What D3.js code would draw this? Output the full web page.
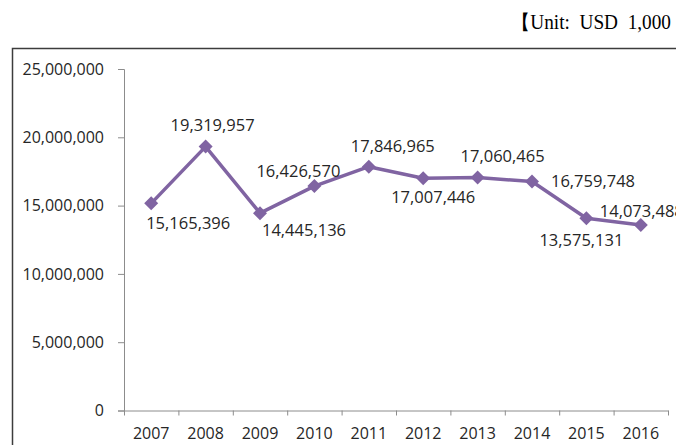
<!DOCTYPE html>
<html>
<head>
<meta charset="utf-8">
<script src="https://cdn.jsdelivr.net/npm/d3@7"></script>
<style>
  html, body { margin: 0; padding: 0; background: #fff; overflow: hidden; }
  svg { display: block; }
  .tick text { font-family: "Open Sans", sans-serif; fill: #262626; }
</style>
</head>
<body>
<div id="chart"></div>
<script>
const years = ["2007", "2008", "2009", "2010", "2011", "2012", "2013", "2014", "2015", "2016"];
const values = [15165396, 19319957, 14445136, 16426570, 17846965, 17007446, 17060465, 16759748, 14073488, 13575131];
// label texts as printed next to each marker
const pointLabels = ["15,165,396", "19,319,957", "14,445,136", "16,426,570", "17,846,965",
  "17,007,446", "17,060,465", "16,759,748", "13,575,131", "14,073,488"];
const yTicks = [0, 5000000, 10000000, 15000000, 20000000, 25000000];
const unitText = "【Unit:  USD  1,000";

// label nudges (px) from each marker, by hand from the picture
const labelOffsets = [[37, 20], [7, -21], [44, 17], [-16, -15], [24, -20],
  [10, 19], [25, -21], [61, 0], [-5, 22], [1, -14]];

const width = 676;
const height = 445;
const lineColor = "#8064a2";

const svg = d3.select("#chart").append("svg")
  .attr("width", width)
  .attr("height", height);

svg.append("text")
  .attr("x", 511)
  .attr("y", 29)
  .attr("font-family", "'Liberation Serif', 'Times New Roman', serif")
  .attr("font-size", 20)
  .attr("fill", "#000")
  .attr("textLength", 160)
  .attr("lengthAdjust", "spacingAndGlyphs")
  .style("white-space", "pre")
  .text(unitText);

// outer frame, runs off the right and bottom edges
svg.append("rect")
  .attr("x", 12.5)
  .attr("y", 48.5)
  .attr("width", 700)
  .attr("height", 450)
  .attr("fill", "none")
  .attr("stroke", "#3c3c3c")
  .attr("stroke-width", 1.5);

const x = d3.scaleBand()
  .domain(years)
  .range([124, 668])
  .padding(0);

const xEdges = d3.scaleLinear()
  .domain([0, years.length])
  .range(x.range());

const y = d3.scaleLinear()
  .domain([0, 25000000])
  .range([410.5, 69]);

const axisColor = "#8c8c8c";

svg.append("g")
  .attr("transform", "translate(124,0)")
  .call(d3.axisLeft(y)
    .tickValues(yTicks)
    .tickSize(6)
    .tickPadding(14)
    .tickFormat(d3.format(",")))
  .call((g) => g.selectAll("line, path").attr("stroke", axisColor))
  .call((g) => g.selectAll("text").attr("font-size", 16));

svg.append("g")
  .attr("transform", "translate(0,410.5)")
  .call(d3.axisBottom(xEdges)
    .tickValues(d3.range(years.length + 1))
    .tickSize(5)
    .tickSizeOuter(0)
    .tickFormat(""))
  .call((g) => g.selectAll("line, path").attr("stroke", axisColor));

svg.append("g")
  .attr("transform", "translate(0,410.5)")
  .call(d3.axisBottom(x).tickSize(0).tickPadding(17))
  .call((g) => g.select(".domain").remove())
  .call((g) => g.selectAll("text").attr("font-size", 16));

const points = years.map((year, i) => ({ year, value: values[i], label: pointLabels[i], offset: labelOffsets[i] }));

const line = d3.line()
  .x((d) => x(d.year) + x.bandwidth() / 2)
  .y((d) => y(d.value));

svg.append("path")
  .datum(points)
  .attr("d", line)
  .attr("fill", "none")
  .attr("stroke", lineColor)
  .attr("stroke-width", 3.5)
  .attr("stroke-linejoin", "round");

svg.selectAll("path.marker")
  .data(points)
  .enter()
  .append("path")
  .attr("class", "marker")
  .attr("transform", (d) => `translate(${x(d.year) + x.bandwidth() / 2},${y(d.value)})`)
  .attr("d", "M0,-7L7,0L0,7L-7,0Z")
  .attr("fill", lineColor);

svg.selectAll("text.point-label")
  .data(points)
  .enter()
  .append("text")
  .attr("class", "point-label")
  .attr("x", (d) => x(d.year) + x.bandwidth() / 2 + d.offset[0])
  .attr("y", (d) => y(d.value) + d.offset[1])
  .attr("dy", "0.35em")
  .attr("text-anchor", "middle")
  .attr("font-family", "'Open Sans', sans-serif")
  .attr("font-size", 16.5)
  .attr("fill", "#262626")
  .text((d) => d.label);
</script>
</body>
</html>
